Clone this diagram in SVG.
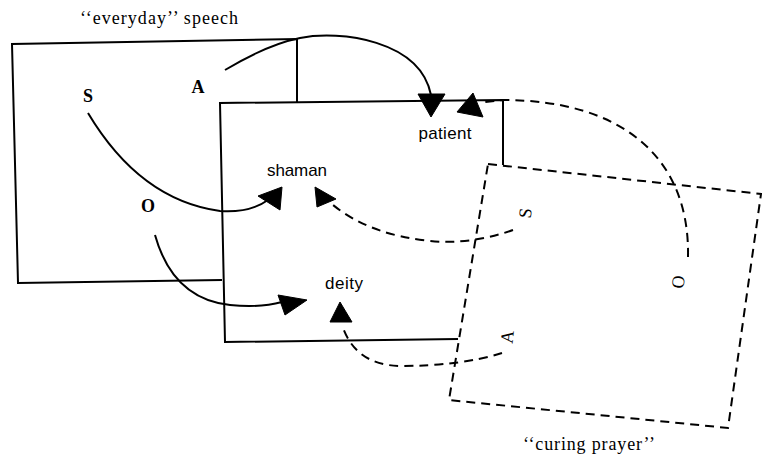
<svg xmlns="http://www.w3.org/2000/svg" width="762" height="459" viewBox="0 0 762 459">
<style>
.solid{fill:none;stroke:#000;stroke-width:2;stroke-linejoin:miter}
.dash{fill:none;stroke:#000;stroke-width:2;stroke-dasharray:9 6}
.head{fill:#000;stroke:#000;stroke-width:1}
.role{font-family:"Liberation Serif",serif;font-size:18px;font-weight:bold;fill:#000}
.rrole{font-family:"Liberation Serif",serif;font-size:18px;fill:#000}
.title{font-family:"Liberation Serif",serif;font-size:18px;fill:#000}
.node{font-family:"Liberation Sans",sans-serif;font-size:17px;fill:#000}
</style>
<rect width="762" height="459" fill="#fff"/>
<g id="everyday-speech">
  <path class="solid" d="M297 102 L297 39 L12 44 L18 283 L222 280"/>
  <text class="title" x="159" y="24" text-anchor="middle" textLength="158">‘‘everyday’’ speech</text>
  <text class="role" x="88" y="102" text-anchor="middle">S</text>
  <text class="role" x="198" y="93" text-anchor="middle">A</text>
  <text class="role" x="148" y="212" text-anchor="middle">O</text>
</g>
<g id="middle-frame">
  <path class="solid" d="M458 339 L225 342 L220 103 L503 100 L503 165"/>
</g>
<g id="curing-prayer">
  <polygon class="dash" points="488,164 761,194 728,428 449,400"/>
  <text class="title" x="589" y="450" text-anchor="middle" textLength="132">‘‘curing prayer’’</text>
  <text class="rrole" transform="translate(525,213) rotate(-84)" text-anchor="middle" dy="0.35em">S</text>
  <text class="rrole" transform="translate(507,337) rotate(-84)" text-anchor="middle" dy="0.35em">A</text>
  <text class="rrole" transform="translate(678,282) rotate(-84)" text-anchor="middle" dy="0.35em">O</text>
</g>
<g id="patient">
  <text class="node" x="445" y="139" text-anchor="middle" textLength="53">patient</text>
</g>
<g id="shaman">
  <text class="node" x="297" y="176" text-anchor="middle" textLength="60">shaman</text>
</g>
<g id="deity">
  <text class="node" x="344" y="289" text-anchor="middle" textLength="38">deity</text>
</g>
<g id="connectors">
  <path class="solid" d="M225 70 C255 52 280 42 300 38 C340 30 420 40 431 95"/>
  <polygon class="head" points="418,94 445,94 431,117"/>
  <path class="solid" d="M88 113 Q140 200 220 211 Q250 213 268 200"/>
  <polygon class="head" points="258,196 282,187 280,210"/>
  <path class="solid" d="M155 235 Q173 299 230 305 Q260 308 282 302"/>
  <polygon class="head" points="278,295 307,300 285,315"/>
  <path class="dash" d="M688 257 C690 160 625 100 503 100 L485 102"/>
  <polygon class="head" points="473,93 457,112 483,117"/>
  <path class="dash" d="M513 230 Q470 245 430 241 Q370 235 333 205"/>
  <polygon class="head" points="315,187 336,199 317,207"/>
  <path class="dash" d="M502 353 Q460 366 400 366 Q355 365 342 325"/>
  <polygon class="head" points="330,322 340,302 352,322"/>
</g>
</svg>
